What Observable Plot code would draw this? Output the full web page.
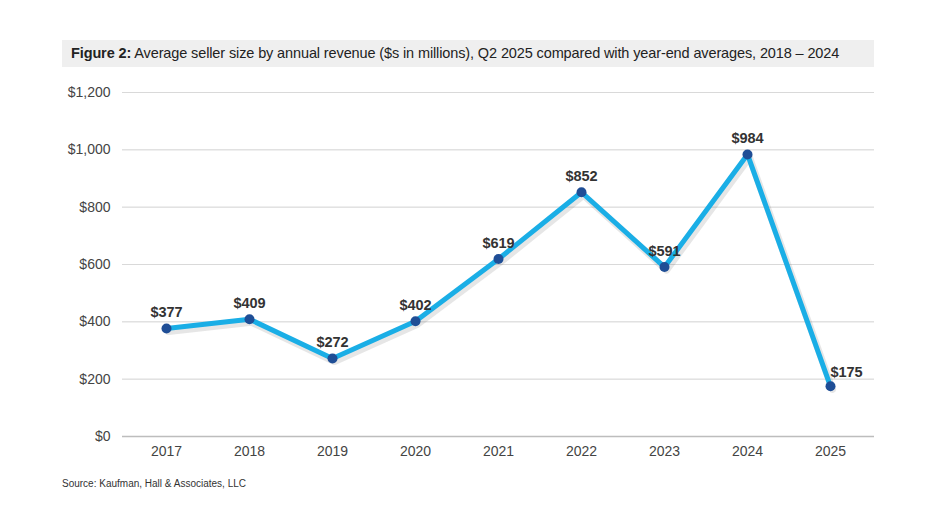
<!DOCTYPE html>
<html><head><meta charset="utf-8">
<script src="https://cdn.jsdelivr.net/npm/d3@7"></script>
<script src="https://cdn.jsdelivr.net/npm/@observablehq/plot@0.6"></script>
<style>
body{margin:0;background:#fff;font-family:"Liberation Sans",Arial,sans-serif;}
#wrap{position:relative;width:938px;height:530px;}
#title{position:absolute;left:62px;top:40px;width:812px;height:27px;background:#efefef;color:#222;font-size:14.5px;line-height:27px;padding-left:9px;box-sizing:border-box;white-space:nowrap;letter-spacing:-0.12px;}
#chart{position:absolute;left:0;top:70px;}
#source{position:absolute;left:62px;top:478px;font-size:10px;color:#333;}
</style></head>
<body><div id="wrap">
<div id="title"><b>Figure 2:</b> Average seller size by annual revenue ($s in millions), Q2 2025 compared with year-end averages, 2018 – 2024</div>
<div id="chart"></div>
<div id="source">Source: Kaufman, Hall &amp; Associates, LLC</div>
</div>
<script>
const years = ["2017","2018","2019","2020","2021","2022","2023","2024","2025"];
const values = [377,409,272,402,619,852,591,984,175];
const yTicks = [0,200,400,600,800,1000,1200];
const data = years.map((y,i)=>({year:y,value:values[i]}));
const main = data.slice(0, -1), last = data.slice(-1);
const fmt = d => "$" + d3.format(",")(d);

const plot = Plot.plot({
  width: 938, height: 400,
  marginLeft: 122, marginRight: 64, marginTop: 22, marginBottom: 34,
  style: {fontFamily: '"Liberation Sans", Arial, sans-serif', fontSize: "14px", color: "#444", background: "transparent"},
  x: {type: "point", domain: years, padding: 0.5, label: null, tickSize: 0, tickPadding: 10},
  y: {domain: [0, 1200], ticks: yTicks, tickFormat: fmt, label: null, tickSize: 0, tickPadding: 12, grid: true},
  marks: [
    Plot.gridY(yTicks, {stroke: "#d9d9d9", strokeOpacity: 1, strokeWidth: 1}),
    Plot.ruleY([0], {stroke: "#bdbdbd", strokeWidth: 1.5}),
    Plot.line(data, {x: "year", y: "value", stroke: "#555", strokeOpacity: 0.15, strokeWidth: 7, dx: 2, dy: 3}),
    Plot.line(data, {x: "year", y: "value", stroke: "#1aaee6", strokeWidth: 5, strokeLinejoin: "round"}),
    Plot.dot(data, {x: "year", y: "value", r: 5, fill: "#1f4e96", stroke: "none"}),
    Plot.text(main, {x: "year", y: "value", text: d => fmt(d.value), dy: -16, fontWeight: "bold", fontSize: 14.5, fill: "#333"}),
    Plot.text(last, {x: "year", y: "value", text: d => fmt(d.value), dy: -14, dx: 16, fontWeight: "bold", fontSize: 14.5, fill: "#333"})
  ]
});
plot.querySelectorAll('[aria-label="y-axis tick label"] text, [aria-label="x-axis tick label"] text').forEach(t=>t.setAttribute("fill","#444"));
document.getElementById("chart").append(plot);
</script>
</body></html>
